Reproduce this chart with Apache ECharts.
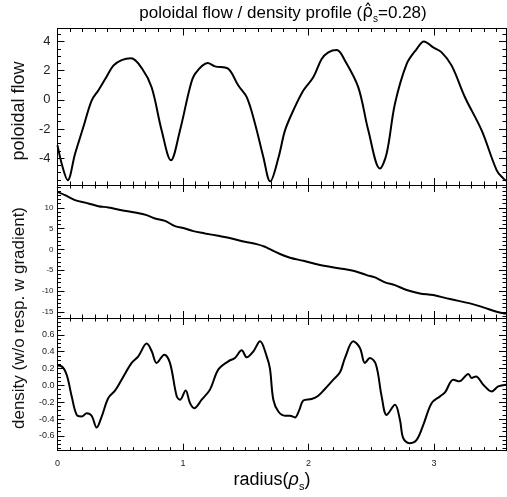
<!DOCTYPE html>
<html><head><meta charset="utf-8">
<script src="https://cdn.jsdelivr.net/npm/echarts@6/dist/echarts.min.js"></script>
<style>html,body{margin:0;padding:0;background:#fff}#c{width:507px;height:497px}</style>
</head><body><div id="c"></div>
<script>
// ---- data ----
const flowX = [0.000,0.040,0.081,0.140,0.206,0.272,0.325,0.385,0.445,0.511,0.586,0.676,0.750,0.830,0.904,0.976,1.056,1.096,1.197,1.255,1.356,1.441,1.508,1.574,1.640,1.695,1.760,1.813,1.879,1.959,2.038,2.105,2.158,2.225,2.291,2.397,2.477,2.570,2.623,2.689,2.782,2.862,2.920,2.994,3.061,3.141,3.247,3.380,3.500,3.552,3.574];
const flowY = [-3.13,-4.60,-5.52,-3.70,-1.87,-0.05,0.64,1.50,2.35,2.73,2.85,2.12,0.86,-2.10,-4.15,-2.10,0.86,1.78,2.53,2.30,2.16,0.98,0.18,-1.64,-3.92,-5.60,-4.00,-2.10,-0.73,0.64,1.55,2.80,3.26,3.42,2.69,0.86,-2.10,-4.72,-3.69,-0.27,2.46,3.49,4.01,3.60,3.26,2.35,0.18,-2.10,-4.84,-5.40,-5.55];

const gradX = [0.000,0.060,0.139,0.246,0.325,0.405,0.511,0.618,0.711,0.777,0.857,0.936,1.016,1.082,1.175,1.281,1.388,1.494,1.587,1.653,1.693,1.773,1.853,1.959,2.092,2.251,2.357,2.464,2.530,2.610,2.689,2.782,2.888,2.994,3.127,3.287,3.393,3.500,3.574];
const gradY = [13.85,13.05,11.85,11.06,10.41,10.10,9.45,8.89,8.25,7.45,6.88,5.60,5.04,4.40,3.85,3.27,2.64,1.83,1.27,0.63,0.05,-1.10,-2.00,-2.74,-3.77,-4.57,-5.14,-6.18,-6.73,-7.93,-8.58,-9.78,-10.58,-10.99,-11.95,-12.98,-13.94,-15.00,-15.50];

const densX = [0.000,0.033,0.073,0.113,0.153,0.193,0.233,0.272,0.312,0.352,0.405,0.458,0.511,0.591,0.644,0.711,0.751,0.790,0.851,0.896,0.950,0.976,1.021,1.056,1.090,1.149,1.215,1.281,1.361,1.414,1.468,1.508,1.561,1.614,1.667,1.693,1.720,1.760,1.813,1.853,1.892,1.927,1.959,2.025,2.078,2.131,2.198,2.251,2.291,2.357,2.410,2.450,2.490,2.538,2.583,2.623,2.689,2.729,2.755,2.803,2.862,2.915,2.982,3.048,3.088,3.154,3.202,3.274,3.300,3.335,3.393,3.460,3.512,3.574];
const densY = [0.235,0.226,0.127,-0.130,-0.350,-0.370,-0.330,-0.360,-0.500,-0.370,-0.150,-0.063,0.068,0.267,0.345,0.496,0.405,0.267,0.365,0.267,-0.130,-0.170,-0.060,-0.210,-0.270,-0.170,-0.050,0.187,0.286,0.326,0.417,0.333,0.405,0.524,0.345,0.200,-0.170,-0.310,-0.360,-0.360,-0.380,-0.290,-0.180,-0.162,-0.123,-0.043,0.068,0.155,0.326,0.524,0.445,0.267,0.326,0.246,-0.130,-0.350,-0.230,-0.410,-0.626,-0.686,-0.646,-0.468,-0.210,-0.130,-0.083,0.068,0.048,0.136,0.088,0.107,0.008,-0.071,-0.012,0.008];

// ---- tick labels ----
const xTicks = [0, 1, 2, 3];
const flowTicks = [-4, -2, 0, 2, 4];
const gradTicks = [-15, -10, -5, 0, 5, 10];
const densTicks = [-0.6, -0.4, -0.2, 0.0, 0.2, 0.4, 0.6];

const X_MIN = 0, X_MAX = 3.574;
const ranges = [[-5.85, 4.9], [-16.5, 15.5], [-0.775, 0.8]];
const majorTicks = [flowTicks, gradTicks, densTicks];
const minorSteps = [0.5, 1, 0.05];
const labelFont = [13, 8, 9];
const labelMargin = [7, 4, 3];
const labelFmt = [v => String(v), v => String(v), v => v.toFixed(1)];

function minors(min, max, step, majors) {
  const out = [];
  const start = Math.ceil(min / step - 1e-9);
  for (let k = start; k * step <= max + 1e-9; k++) {
    const v = +(k * step).toFixed(4);
    if (!majors.some(m => Math.abs(m - v) < 1e-6)) out.push(v);
  }
  return out;
}

const grids = [
  {left: 57.5, width: 448.5, top: 28.5, height: 156.5},
  {left: 57.5, width: 448.5, top: 185, height: 133},
  {left: 57.5, width: 448.5, top: 318, height: 132.7}
];

const black = '#000';
const xAxes = [], yAxes = [];
const xMinor = minors(X_MIN, X_MAX, 0.1, xTicks);

grids.forEach((g, gi) => {
  const bx = {type: 'value', gridIndex: gi, min: X_MIN, max: X_MAX, splitLine: {show: false},
    axisLine: {show: true, onZero: false, lineStyle: {color: black, width: 1}}};
  const isBottom = gi === 2;
  xAxes.push(Object.assign({}, bx, {position: 'bottom',
    axisTick: {show: true, inside: true, length: 7, customValues: xTicks, lineStyle: {color: black}},
    axisLabel: {show: isBottom, customValues: xTicks, margin: 8, fontSize: 9, color: '#222', fontFamily: 'Liberation Sans'}
  }));
  xAxes.push(Object.assign({}, bx, {position: 'bottom', axisLine: {show: false, onZero: false},
    axisTick: {show: true, inside: true, length: 3.5, customValues: xMinor, lineStyle: {color: black}},
    axisLabel: {show: false}}));
  xAxes.push(Object.assign({}, bx, {position: 'top',
    axisTick: {show: true, inside: true, length: 7, customValues: xTicks, lineStyle: {color: black}},
    axisLabel: {show: false}}));
  xAxes.push(Object.assign({}, bx, {position: 'top', axisLine: {show: false, onZero: false},
    axisTick: {show: true, inside: true, length: 3.5, customValues: xMinor, lineStyle: {color: black}},
    axisLabel: {show: false}}));

  const [mn, mx] = ranges[gi];
  const maj = majorTicks[gi];
  const mnr = minors(mn, mx, minorSteps[gi], maj);
  const by = {type: 'value', gridIndex: gi, min: mn, max: mx, splitLine: {show: false},
    axisLine: {show: true, onZero: false, lineStyle: {color: black, width: 1}}};
  yAxes.push(Object.assign({}, by, {position: 'left',
    axisTick: {show: true, inside: true, length: 7, customValues: maj, lineStyle: {color: black}},
    axisLabel: {show: true, customValues: maj, margin: labelMargin[gi], fontSize: labelFont[gi],
      color: '#222', fontFamily: 'Liberation Sans', formatter: labelFmt[gi]}
  }));
  yAxes.push(Object.assign({}, by, {position: 'left', axisLine: {show: false, onZero: false},
    axisTick: {show: true, inside: true, length: 3.5, customValues: mnr, lineStyle: {color: black}},
    axisLabel: {show: false}}));
  yAxes.push(Object.assign({}, by, {position: 'right',
    axisTick: {show: true, inside: true, length: 7, customValues: maj, lineStyle: {color: black}},
    axisLabel: {show: false}}));
  yAxes.push(Object.assign({}, by, {position: 'right', axisLine: {show: false, onZero: false},
    axisTick: {show: true, inside: true, length: 3.5, customValues: mnr, lineStyle: {color: black}},
    axisLabel: {show: false}}));
});

function pairs(xs, ys) { return xs.map((x, i) => [x, ys[i]]); }
const seriesData = [pairs(flowX, flowY), pairs(gradX, gradY), pairs(densX, densY)];
const series = seriesData.map((d, gi) => ({
  type: 'line', xAxisIndex: gi * 4, yAxisIndex: gi * 4, data: d,
  showSymbol: false, smooth: 0.35, animation: false, clip: true,
  lineStyle: {color: black, width: 2}
}));

const chart = echarts.init(document.getElementById('c'), null, {renderer: 'canvas'});
chart.setOption({
  animation: false,
  backgroundColor: '#fff',
  grid: grids,
  xAxis: xAxes,
  yAxis: yAxes,
  series: series,
  graphic: [
    {type: 'text', x: 283, y: 13, style: {
      text: '{a|poloidal flow / density profile (}{r|ρ̂}{s|s}{a|=0.28)}',
      align: 'center', verticalAlign: 'middle', textAlign: 'center', textVerticalAlign: 'middle',
      rich: {a: {fontSize: 17, lineHeight: 22, fontFamily: 'Liberation Sans', color: '#111'},
             r: {fontSize: 17, lineHeight: 22, fontFamily: 'DejaVu Sans', color: '#111'},
             s: {fontSize: 10, lineHeight: 10, verticalAlign: 'bottom', fontFamily: 'Liberation Sans', color: '#111'}}
    }},
    {type: 'text', x: 272, y: 480, style: {
      text: '{a|radius(}{r|ρ}{s|s}{a|)}',
      align: 'center', verticalAlign: 'middle', textAlign: 'center', textVerticalAlign: 'middle',
      rich: {a: {fontSize: 18, lineHeight: 24, fontFamily: 'Liberation Sans', color: '#111'},
             r: {fontSize: 18, lineHeight: 24, fontFamily: 'Liberation Sans', fontStyle: 'italic', color: '#111'},
             s: {fontSize: 11, lineHeight: 11, verticalAlign: 'bottom', fontFamily: 'Liberation Sans', color: '#111'}}
    }},
    {type: 'text', x: 19, y: 111, rotation: Math.PI / 2, style: {
      text: 'poloidal flow', font: '18px "Liberation Sans"', fill: '#111',
      align: 'center', verticalAlign: 'middle', textAlign: 'center', textVerticalAlign: 'middle'}},
    {type: 'text', x: 19, y: 318, rotation: Math.PI / 2, style: {
      text: 'density (w/o resp. w gradient)', font: '17px "Liberation Sans"', fill: '#111',
      align: 'center', verticalAlign: 'middle', textAlign: 'center', textVerticalAlign: 'middle'}}
  ]
});
</script></body></html>
